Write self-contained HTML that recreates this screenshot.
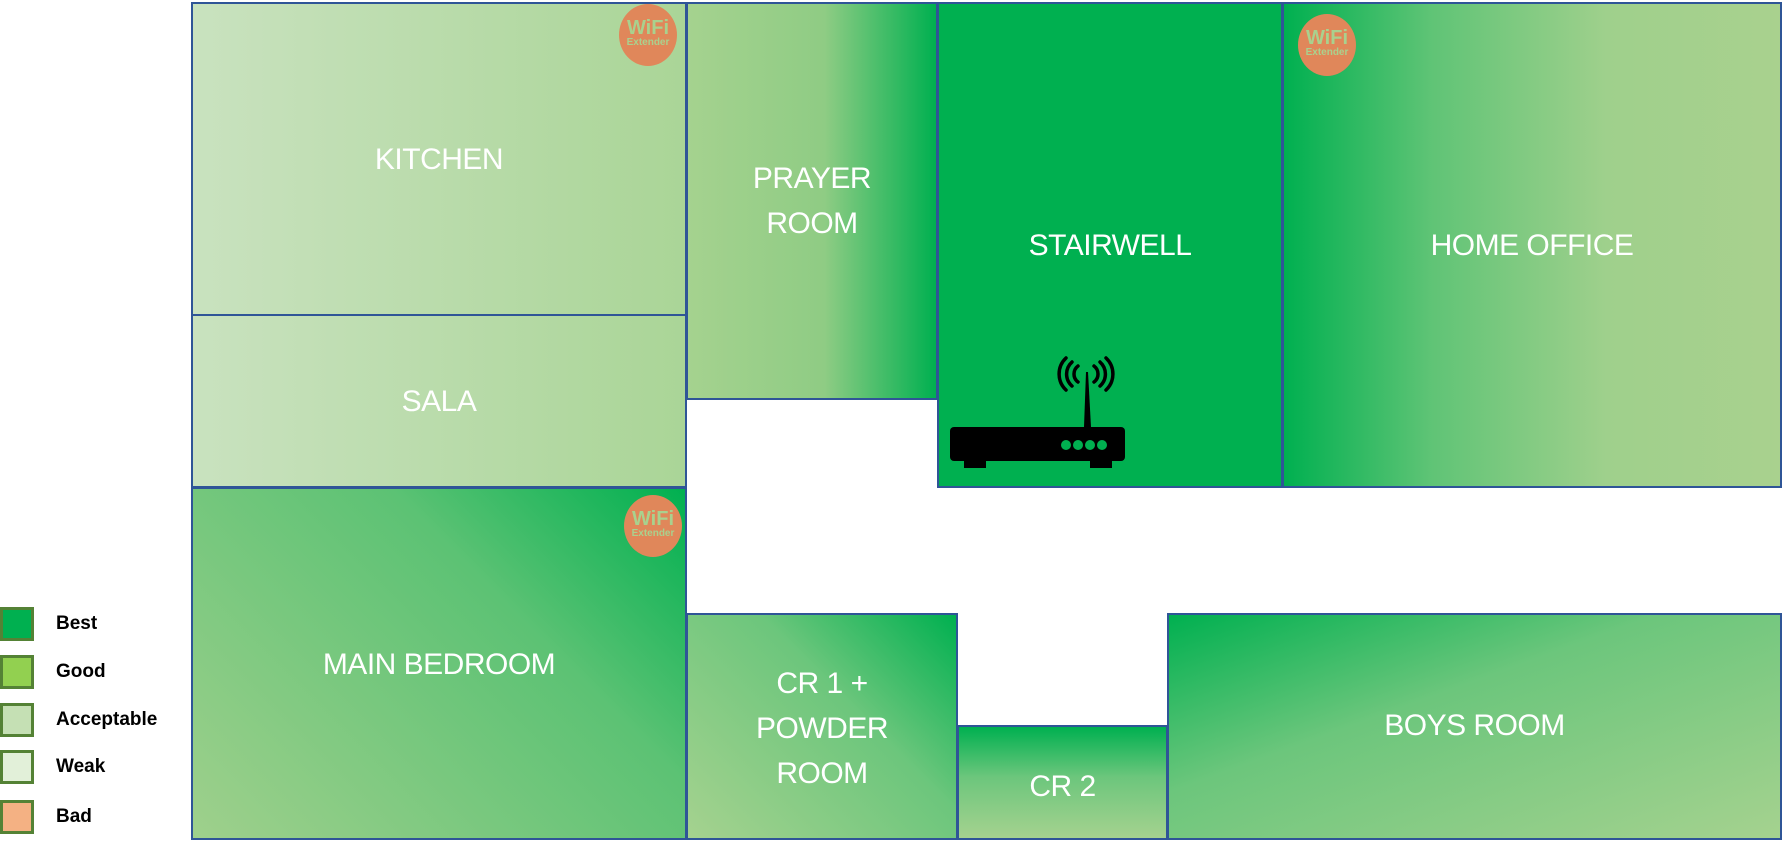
<!DOCTYPE html>
<html><head><meta charset="utf-8"><style>
html,body{margin:0;padding:0;background:#fff;width:1783px;height:847px;overflow:hidden;position:relative;font-family:"Liberation Sans",sans-serif}
.r{position:absolute;box-sizing:border-box;border:2px solid #2f5597;color:#fff;font-size:30px;text-align:center;display:flex;align-items:center;justify-content:center;line-height:45px;letter-spacing:-0.5px}
.lg{position:absolute;left:0;width:34px;height:34px;box-sizing:border-box;border:3px solid #548235}
.lt{position:absolute;left:56px;font-size:19px;font-weight:bold;color:#000}
.wf{position:absolute;width:58px;height:62px;border-radius:50%;background:#e0875a;color:#a9d18e;text-align:center;font-weight:bold;line-height:1}
</style></head><body>
<div class="r" style="left:191px;top:2px;width:496px;height:314px;background:linear-gradient(90deg,#c9e2bf,#aad597);padding-bottom:0px">KITCHEN</div>
<div class="r" style="left:191px;top:314px;width:496px;height:174px;background:linear-gradient(90deg,#c9e2bf,#aad597)">SALA</div>
<div class="r" style="left:191px;top:487px;width:496px;height:353px;background:linear-gradient(225deg,#00b050 0%,#5cc274 35%,#9fd08c 100%);padding-top:2px">MAIN BEDROOM</div>
<div class="r" style="left:686px;top:2px;width:252px;height:398px;background:linear-gradient(90deg,#a5d28f 0%,#8fcc84 55%,#00b050 100%);padding-bottom:0px">PRAYER<br>ROOM</div>
<div class="r" style="left:937px;top:2px;width:346px;height:486px;background:#00b050;padding-bottom:0">STAIRWELL</div>
<div class="r" style="left:1282px;top:2px;width:500px;height:486px;background:linear-gradient(90deg,#00b050 0%,#60c476 30%,#9fd08c 65%,#a9d18e 100%)">HOME OFFICE</div>
<div class="r" style="left:686px;top:613px;width:272px;height:227px;background:linear-gradient(225deg,#00b050 0%,#6cc67c 40%,#a5d28f 100%);padding-top:4px">CR 1 +<br>POWDER<br>ROOM</div>
<div class="r" style="left:957px;top:725px;width:211px;height:115px;background:linear-gradient(180deg,#00b050 0%,#6cc67c 45%,#a5d28f 100%);padding-top:8px">CR 2</div>
<div class="r" style="left:1167px;top:613px;width:615px;height:227px;background:linear-gradient(160deg,#00b050 0%,#6cc67c 40%,#a5d28f 100%);padding-bottom:2px">BOYS ROOM</div>

<div class="wf" style="left:619px;top:4px"><div style="font-size:20px;margin-top:14px">WiFi</div><div style="font-size:10px">Extender</div></div>
<div class="wf" style="left:1298px;top:14px"><div style="font-size:20px;margin-top:14px">WiFi</div><div style="font-size:10px">Extender</div></div>
<div class="wf" style="left:624px;top:495px"><div style="font-size:20px;margin-top:14px">WiFi</div><div style="font-size:10px">Extender</div></div>

<svg style="position:absolute;left:0;top:0" width="1783" height="847">
<g fill="none" stroke="#000" stroke-width="3.5" stroke-linecap="round">
<path d="M1078 366 a10 10 0 0 0 0 16"/><path d="M1094 366 a10 10 0 0 1 0 16"/>
<path d="M1072 362 a16 16 0 0 0 0 24"/><path d="M1100 362 a16 16 0 0 1 0 24"/>
<path d="M1066 358 a22 22 0 0 0 0 32"/><path d="M1106 358 a22 22 0 0 1 0 32"/>
</g>
<polygon points="1084,427 1086,372 1088,372 1091,427" fill="#000"/>
<rect x="950" y="427" width="175" height="34" rx="4" fill="#000"/>
<rect x="964" y="458" width="22" height="10" fill="#000"/><rect x="1090" y="458" width="22" height="10" fill="#000"/>
<g fill="#00b050"><circle cx="1066" cy="445" r="5"/><circle cx="1078" cy="445" r="5"/><circle cx="1090" cy="445" r="5"/><circle cx="1102" cy="445" r="5"/></g>
</svg>

<div class="lg" style="top:607px;background:#00b050"></div><div class="lt" style="top:613px">Best</div>
<div class="lg" style="top:655px;background:#92d050"></div><div class="lt" style="top:661px">Good</div>
<div class="lg" style="top:703px;background:#c5e0b4"></div><div class="lt" style="top:709px">Acceptable</div>
<div class="lg" style="top:750px;background:#e2f0d9"></div><div class="lt" style="top:756px">Weak</div>
<div class="lg" style="top:800px;background:#f4b183"></div><div class="lt" style="top:806px">Bad</div>
</body></html>
